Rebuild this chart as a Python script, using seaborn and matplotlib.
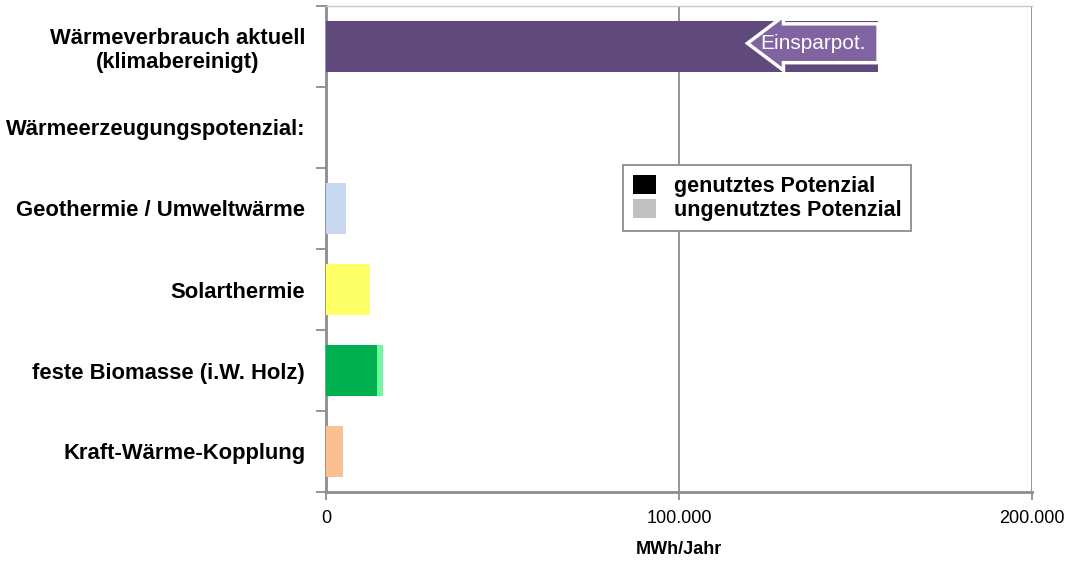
import matplotlib
matplotlib.use("Agg")
import matplotlib.pyplot as plt
import seaborn as sns
import pandas as pd
from matplotlib.patches import FancyArrow, Patch
from matplotlib.ticker import FixedLocator, FuncFormatter

categories = ["Wärmeverbrauch aktuell\n(klimabereinigt)", "Wärmeerzeugungspotenzial:",
              "Geothermie / Umweltwärme", "Solarthermie",
              "feste Biomasse (i.W. Holz)", "Kraft-Wärme-Kopplung"]
used = [156400, 0, 5700, 12500, 14500, 4800]
unused = [0, 0, 0, 0, 1700, 0]
einspar = 37000
einspar_label = "Einsparpot."
legend_labels = ["genutztes Potenzial", "ungenutztes Potenzial"]
xticks = [0, 100000, 200000]
xlabel = "MWh/Jahr"

used_colors = ["#604A7B", "#FFFFFF", "#C6D9F1", "#FFFF66", "#00B050", "#FAC090"]
unused_colors = ["#604A7B", "#FFFFFF", "#C6D9F1", "#FFFF66", "#66FF99", "#FAC090"]

sns.set_theme(style="white")
plt.rcParams['font.family'] = ['Liberation Sans', 'DejaVu Sans']
plt.rcParams['text.color'] = 'black'
plt.rcParams['xtick.color'] = 'black'
plt.rcParams['ytick.color'] = 'black'
plt.rcParams['axes.labelcolor'] = 'black'

df = pd.DataFrame({"cat": categories, "used": used,
                   "total": [u + n for u, n in zip(used, unused)]})

fig = plt.figure(figsize=(10.82, 5.66), dpi=100)
ax = fig.add_axes([326/1082, 1-492/566, 706/1082, 486/566])

sns.barplot(data=df, x="total", y="cat", hue="cat", palette=unused_colors, legend=False,
            width=0.62, orient="h", ax=ax, saturation=1, zorder=3, linewidth=0)
sns.barplot(data=df, x="used", y="cat", hue="cat", palette=used_colors, legend=False,
            width=0.62, orient="h", ax=ax, saturation=1, zorder=3, linewidth=0)

ax.set_xlim(0, 200000)
ax.set_ylim(len(categories) - 0.5, -0.5)
ax.xaxis.set_major_locator(FixedLocator(xticks))
ax.xaxis.set_major_formatter(FuncFormatter(lambda v, p: f"{int(v):,}".replace(",", ".")))
ax.grid(axis="x", color="#8C8C8C", linewidth=1.3, zorder=0)
ax.set_axisbelow(True)

ax.spines["top"].set_color("#C8C8C8")
ax.spines["top"].set_linewidth(1.0)
ax.spines["right"].set_visible(False)
for s in ["left", "bottom"]:
    ax.spines[s].set_color("#8C8C8C")
    ax.spines[s].set_linewidth(2)

ax.set_ylabel("")
ax.set_xlabel(xlabel, fontsize=13, fontweight="bold", labelpad=10)
ax.tick_params(axis="x", which="major", length=6, width=1.3, color="#8C8C8C",
               labelsize=13, pad=7, bottom=True)
ax.tick_params(axis="y", which="major", length=0, pad=15, labelsize=15.8)
ax.set_yticks(range(len(categories)))
ax.set_yticklabels(categories, fontweight="bold", fontsize=15.8)
for lbl in ax.get_yticklabels():
    lbl.set_multialignment("center")
ax.yaxis.set_minor_locator(FixedLocator([i + 0.5 for i in range(-1, len(categories))]))
ax.tick_params(axis="y", which="minor", length=7, width=1.3, color="#8C8C8C", left=True)

# savings arrow
total0 = used[0] + unused[0]
head_len = 10200
arr = FancyArrow(total0, -0.04, -einspar, 0, width=0.48, head_width=0.67,
                 head_length=head_len, length_includes_head=True,
                 facecolor="#8064A2", edgecolor="white", linewidth=2.5, zorder=5)
ax.add_patch(arr)
ax.text(total0 - einspar / 2, -0.04, einspar_label, color="white",
        fontsize=15, ha="center", va="center", zorder=6)

handles = [Patch(facecolor="black", edgecolor="none"), Patch(facecolor="#C0C0C0", edgecolor="none")]
leg = ax.legend(handles, legend_labels, loc="upper left", bbox_to_anchor=(0.4207, 0.673),
                borderaxespad=0, fancybox=False, framealpha=1, edgecolor="#8C8C8C",
                prop={"weight": "bold", "size": 15.5}, handlelength=1.1, handleheight=1.0,
                handletextpad=0.8, labelspacing=0.12, borderpad=0.45)
leg.get_frame().set_linewidth(1.3)
leg.set_zorder(10)

fig.savefig("out.png", dpi=100)
